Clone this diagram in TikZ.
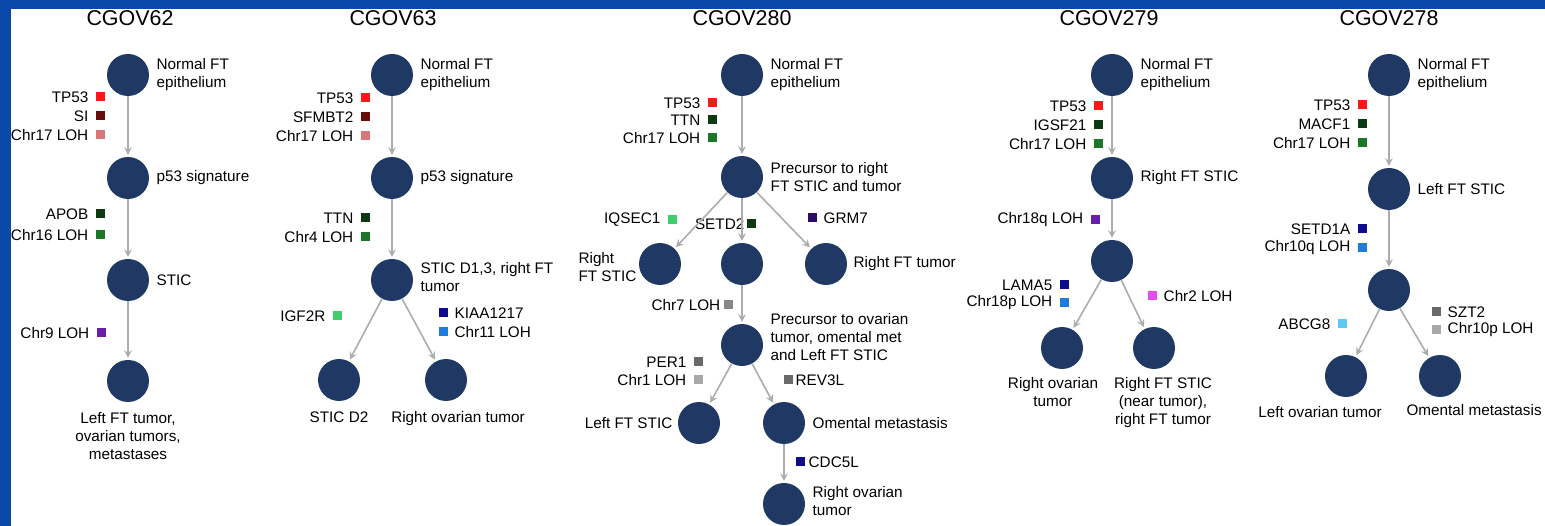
\documentclass[tikz,border=0pt]{standalone}
\usepackage{fontspec}
\setmainfont{Liberation Sans}
\usetikzlibrary{positioning}
\definecolor{frameblue}{RGB}{10,72,170}
\definecolor{nodeblue}{RGB}{31,56,100}
\definecolor{arrgray}{RGB}{172,172,172}
\definecolor{mred}{RGB}{250,25,25}
\definecolor{mdarkred}{RGB}{105,12,12}
\definecolor{mpink}{RGB}{216,118,122}
\definecolor{mdkgreen}{RGB}{12,56,18}
\definecolor{mgreen}{RGB}{28,118,40}
\definecolor{mpurple}{RGB}{104,30,165}
\definecolor{mltgreen}{RGB}{62,206,110}
\definecolor{mnavy}{RGB}{12,12,140}
\definecolor{mblue}{RGB}{30,125,218}
\definecolor{mdkpurple}{RGB}{45,12,105}
\definecolor{mgray}{RGB}{135,135,135}
\definecolor{mdkgray}{RGB}{105,105,105}
\definecolor{mltgray}{RGB}{168,168,168}
\definecolor{mmagenta}{RGB}{228,76,240}
\definecolor{mskyblue}{RGB}{92,200,248}
\newcommand\labfont{\fontsize{8.7}{10.2}\selectfont}
\newcommand\titlefont{\fontsize{12.2}{14}\selectfont}
\tikzset{
  stage/.style={circle, fill=nodeblue, minimum size=0.84cm, inner sep=0},
  txt/.style={inner sep=0, font=\labfont, align=left},
  ctxt/.style={inner sep=0, font=\labfont, align=center},
  title/.style={inner sep=0, font=\titlefont},
  mut/.style={fill=#1, minimum size=0.18cm, inner sep=0},
  mlab/.style={inner sep=0, font=\labfont},
  ml/.style={mlab, xshift=-0.13cm},
  mr/.style={mlab, xshift=0.13cm},
  arr/.style={->, draw=arrgray, line width=0.9pt, shorten >=1pt},
}
\begin{document}
\begin{tikzpicture}[>=stealth, x=0.02cm, y=-0.02cm]
    \useasboundingbox (0,0) rectangle (1545,526);
    \fill[frameblue] (0,0) rectangle (1545,526);
    \fill[white] (11,9) rectangle (1545,526);

    % CGOV62
    \node[title] (h62) at (130,18) {CGOV62};
    \node[stage] (c62a) at (128,75) {};
    \node[stage] (c62b) at (128,178) {};
    \node[stage] (c62c) at (128,280) {};
    \node[stage] (c62d) at (128,381) {};
    \node[txt, right=0.14cm of c62a] (t62a) {Normal FT\\epithelium};
    \node[txt, right=0.14cm of c62b] (t62b) {p53 signature};
    \node[txt, right=0.14cm of c62c] (t62c) {STIC};
    \node[ctxt, below=0.2cm of c62d] (t62d) {Left FT tumor,\\ovarian tumors,\\metastases};
    \node[mut=mred, label={[ml]left:TP53}] (m62a) at (100,97) {};
    \node[mut=mdarkred, label={[ml]left:SI}] (m62b) at (100,116) {};
    \node[mut=mpink, label={[ml]left:Chr17 LOH}] (m62c) at (100,135) {};
    \node[mut=mdkgreen, label={[ml]left:APOB}] (m62d) at (100,214) {};
    \node[mut=mgreen, label={[ml]left:Chr16 LOH}] (m62e) at (100,235) {};
    \node[mut=mpurple, label={[ml]left:Chr9 LOH}] (m62f) at (101,333) {};
    \draw[arr] (c62a) -- (c62b);
    \draw[arr] (c62b) -- (c62c);
    \draw[arr] (c62c) -- (c62d);

    % CGOV63
    \node[title] (h63) at (393,18) {CGOV63};
    \node[stage] (c63a) at (392,75) {};
    \node[stage] (c63b) at (392,178) {};
    \node[stage] (c63c) at (392,280) {};
    \node[stage] (c63d) at (339,380) {};
    \node[stage] (c63e) at (446,380) {};
    \node[txt, right=0.14cm of c63a] (t63a) {Normal FT\\epithelium};
    \node[txt, right=0.14cm of c63b] (t63b) {p53 signature};
    \node[txt, right=0.14cm of c63c, yshift=0.05cm] (t63c) {STIC D1,3, right FT\\tumor};
    \node[ctxt, below=0.2cm of c63d] (t63d) {STIC D2};
    \node[ctxt, below=0.2cm of c63e, xshift=0.24cm] (t63e) {Right ovarian tumor};
    \node[mut=mred, label={[ml]left:TP53}] (m63a) at (365,98) {};
    \node[mut=mdarkred, label={[ml]left:SFMBT2}] (m63b) at (365,117) {};
    \node[mut=mpink, label={[ml]left:Chr17 LOH}] (m63c) at (365,136) {};
    \node[mut=mdkgreen, label={[ml]left:TTN}] (m63d) at (365,218) {};
    \node[mut=mgreen, label={[ml]left:Chr4 LOH}] (m63e) at (365,237) {};
    \node[mut=mltgreen, label={[ml]left:IGF2R}] (m63f) at (337,316) {};
    \node[mut=mnavy, label={[mr]right:KIAA1217}] (m63g) at (443,313) {};
    \node[mut=mblue, label={[mr]right:Chr11 LOH}] (m63h) at (443,332) {};
    \draw[arr] (c63a) -- (c63b);
    \draw[arr] (c63b) -- (c63c);
    \draw[arr] (c63c) -- (c63d);
    \draw[arr] (c63c) -- (c63e);

    % CGOV280
    \node[title] (h280) at (742,18) {CGOV280};
    \node[stage] (c280a) at (742,75) {};
    \node[stage] (c280b) at (742,177) {};
    \node[stage] (c280c) at (660,264) {};
    \node[stage] (c280d) at (742,264) {};
    \node[stage] (c280e) at (826,264) {};
    \node[stage] (c280f) at (742,345) {};
    \node[stage] (c280g) at (699,423) {};
    \node[stage] (c280h) at (784,423) {};
    \node[stage] (c280i) at (784,504) {};
    \node[txt, right=0.14cm of c280a] (t280a) {Normal FT\\epithelium};
    \node[txt, right=0.14cm of c280b] (t280b) {Precursor to right\\FT STIC and tumor};
    \node[txt, left=0.04cm of c280c, yshift=-0.06cm] (t280c) {Right\\FT STIC};
    \node[txt, right=0.12cm of c280e] (t280e) {Right FT tumor};
    \node[txt, right=0.14cm of c280f, yshift=0.16cm] (t280f) {Precursor to ovarian\\tumor, omental met\\and Left FT STIC};
    \node[txt, left=0.1cm of c280g] (t280g) {Left FT STIC};
    \node[txt, right=0.14cm of c280h] (t280h) {Omental metastasis};
    \node[txt, right=0.14cm of c280i, yshift=0.06cm] (t280i) {Right ovarian\\tumor};
    \node[mut=mred, label={[ml]left:TP53}] (m280a) at (712,103) {};
    \node[mut=mdkgreen, label={[ml]left:TTN}] (m280b) at (712,120) {};
    \node[mut=mgreen, label={[ml]left:Chr17 LOH}] (m280c) at (712,138) {};
    \node[mut=mltgreen, label={[ml]left:IQSEC1}] (m280d) at (672,220) {};
    \node[mut=mdkgreen, label={[mlab, xshift=-0.03cm]left:SETD2}] (m280e) at (751,224) {};
    \node[mut=mdkpurple, label={[mr]right:GRM7}] (m280f) at (812,218) {};
    \node[mut=mgray, label={[mlab, xshift=-0.05cm]left:Chr7 LOH}] (m280g) at (728,305) {};
    \node[mut=mdkgray, label={[ml]left:PER1}] (m280h) at (698,362) {};
    \node[mut=mltgray, label={[ml]left:Chr1 LOH}] (m280i) at (698,380) {};
    \node[mut=mdkgray, label={[mlab, xshift=0.05cm]right:REV3L}] (m280j) at (788,380) {};
    \node[mut=mnavy, label={[mlab, xshift=0.07cm]right:CDC5L}] (m280k) at (800,462) {};
    \draw[arr] (c280a) -- (c280b);
    \draw[arr] (c280b) -- (c280c);
    \draw[arr] (c280b) -- (c280d);
    \draw[arr] (c280b) -- (c280e);
    \draw[arr] (c280d) -- (c280f);
    \draw[arr] (c280f) -- (c280g);
    \draw[arr] (c280f) -- (c280h);
    \draw[arr] (c280h) -- (c280i);

    % CGOV279
    \node[title] (h279) at (1109,18) {CGOV279};
    \node[stage] (c279a) at (1112,75) {};
    \node[stage] (c279b) at (1112,178) {};
    \node[stage] (c279c) at (1112,261) {};
    \node[stage] (c279d) at (1062,348) {};
    \node[stage] (c279e) at (1154,348) {};
    \node[txt, right=0.14cm of c279a] (t279a) {Normal FT\\epithelium};
    \node[txt, right=0.14cm of c279b] (t279b) {Right FT STIC};
    \node[ctxt, below=0.16cm of c279d, xshift=-0.18cm] (t279d) {Right ovarian\\tumor};
    \node[ctxt, below=0.16cm of c279e, xshift=0.18cm] (t279e) {Right FT STIC\\(near tumor),\\right FT tumor};
    \node[mut=mred, label={[ml]left:TP53}] (m279a) at (1098,106) {};
    \node[mut=mdkgreen, label={[ml]left:IGSF21}] (m279b) at (1098,125) {};
    \node[mut=mgreen, label={[ml]left:Chr17 LOH}] (m279c) at (1098,144) {};
    \node[mut=mpurple, label={[ml]left:Chr18q LOH}] (m279d) at (1095,220) {};
    \node[mut=mnavy, label={[ml]left:LAMA5}] (m279e) at (1064,285) {};
    \node[mut=mblue, label={[ml]left:Chr18p LOH}] (m279f) at (1064,303) {};
    \node[mut=mmagenta, label={[mr]right:Chr2 LOH}] (m279g) at (1152,296) {};
    \draw[arr] (c279a) -- (c279b);
    \draw[arr] (c279b) -- (c279c);
    \draw[arr] (c279c) -- (c279d);
    \draw[arr] (c279c) -- (c279e);

    % CGOV278
    \node[title] (h278) at (1389,18) {CGOV278};
    \node[stage] (c278a) at (1389,75) {};
    \node[stage] (c278b) at (1389,189) {};
    \node[stage] (c278c) at (1389,290) {};
    \node[stage] (c278d) at (1346,376) {};
    \node[stage] (c278e) at (1440,376) {};
    \node[txt, right=0.14cm of c278a] (t278a) {Normal FT\\epithelium};
    \node[txt, right=0.14cm of c278b] (t278b) {Left FT STIC};
    \node[ctxt, below=0.18cm of c278d, xshift=-0.52cm] (t278d) {Left ovarian tumor};
    \node[txt, anchor=north east] (t278e) at (1542,404) {Omental metastasis};
    \node[mut=mred, label={[ml]left:TP53}] (m278a) at (1362,105) {};
    \node[mut=mdkgreen, label={[ml]left:MACF1}] (m278b) at (1362,124) {};
    \node[mut=mgreen, label={[ml]left:Chr17 LOH}] (m278c) at (1362,143) {};
    \node[mut=mnavy, label={[ml]left:SETD1A}] (m278d) at (1362,229) {};
    \node[mut=mblue, label={[ml]left:Chr10q LOH}] (m278e) at (1362,248) {};
    \node[mut=mskyblue, label={[ml]left:ABCG8}] (m278f) at (1342,324) {};
    \node[mut=mdkgray, label={[mr]right:SZT2}] (m278g) at (1436,312) {};
    \node[mut=mltgray, label={[mr]right:Chr10p LOH}] (m278h) at (1436,330) {};
    \draw[arr] (c278a) -- (c278b);
    \draw[arr] (c278b) -- (c278c);
    \draw[arr] (c278c) -- (c278d);
    \draw[arr] (c278c) -- (c278e);
\end{tikzpicture}
\end{document}
